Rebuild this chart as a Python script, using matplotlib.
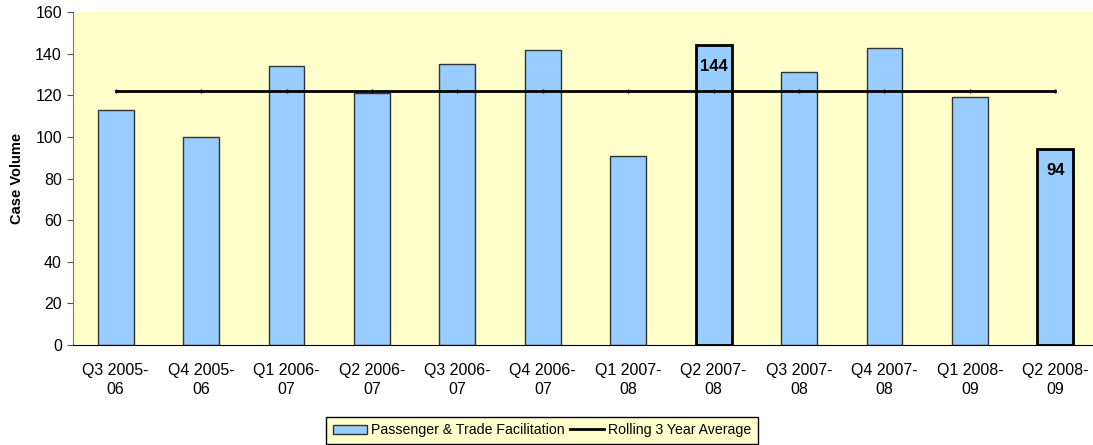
import matplotlib
matplotlib.use('Agg')
import matplotlib.pyplot as plt
from matplotlib.lines import Line2D
import numpy as np

quarters = ['Q3 2005-\n06', 'Q4 2005-\n06', 'Q1 2006-\n07', 'Q2 2006-\n07',
            'Q3 2006-\n07', 'Q4 2006-\n07', 'Q1 2007-\n08', 'Q2 2007-\n08',
            'Q3 2007-\n08', 'Q4 2007-\n08', 'Q1 2008-\n09', 'Q2 2008-\n09']
case_volume = [113, 100, 134, 121, 135, 142, 91, 144, 131, 143, 119, 94]
rolling_avg = [122] * 12
highlighted = [7, 11]

plt.rcParams['font.family'] = ['Liberation Sans', 'DejaVu Sans']

fig = plt.figure(figsize=(10.93, 4.45), dpi=100)
ax = fig.add_axes([0.0668, 0.2247, 0.9378, 0.748])
ax.set_facecolor('#FFFFCC')

x = np.arange(len(quarters))
bars = ax.bar(x, case_volume, width=0.42, color='#99CCFF', edgecolor='#333333',
              linewidth=1, label='Passenger & Trade Facilitation', zorder=2)
for i in highlighted:
    bars[i].set_edgecolor('black')
    bars[i].set_linewidth(2)
    ax.annotate(str(case_volume[i]), xy=(x[i], case_volume[i]), xytext=(0, -10),
                textcoords='offset points', ha='center', va='top',
                fontsize=12, fontweight='bold', zorder=4)

ax.plot(x, rolling_avg, color='black', lw=2, marker='|', markersize=3,
        zorder=3)

ax.set_xlim(-0.5, 11.5)
ax.set_ylim(0, 160)
ax.set_yticks(range(0, 161, 20))
ax.set_xticks(x)
ax.set_xticklabels(quarters, fontsize=11.5, linespacing=1.35)
ax.tick_params(axis='x', length=0, pad=13)
ax.tick_params(axis='y', labelsize=11.5, length=4, color='#555555', pad=4)
ax.set_ylabel('Case Volume', fontsize=10.5, fontweight='bold', labelpad=8)

ax.spines['top'].set_visible(False)
ax.spines['right'].set_visible(False)
ax.spines['left'].set_color('#777777')
ax.spines['bottom'].set_color('black')

handles = [bars, Line2D([], [], color='black', lw=2)]
labels = ['Passenger & Trade Facilitation', 'Rolling 3 Year Average']
leg = fig.legend(handles, labels, loc='lower center', bbox_to_anchor=(0.496, 0.0),
                 ncol=2, fontsize=10.2, frameon=True, fancybox=False, borderpad=0.45,
                 handlelength=2.4, handleheight=0.6, columnspacing=0.4,
                 handletextpad=0.3, borderaxespad=0.1)
leg.get_frame().set_facecolor('#FFFFCC')
leg.get_frame().set_edgecolor('black')
leg.get_frame().set_alpha(1)

fig.savefig('out.png', dpi=100)
